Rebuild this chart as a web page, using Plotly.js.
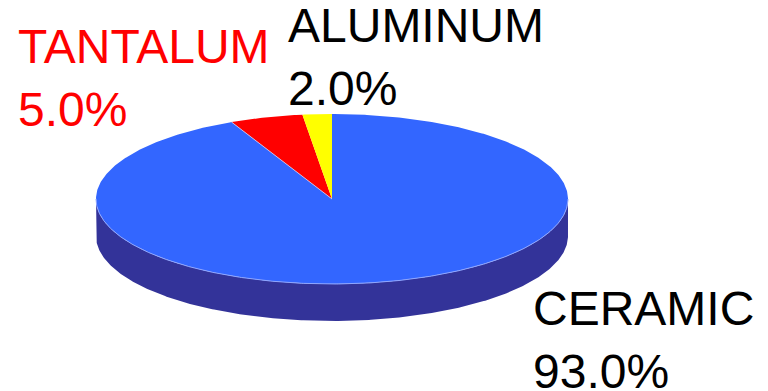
<!DOCTYPE html>
<html>
<head>
<meta charset="utf-8">
<script src="https://cdn.plot.ly/plotly-3.0.1.min.js"></script>
<style>
  html, body { margin: 0; padding: 0; background: #ffffff; }
  #chart { width: 768px; height: 391px; }
</style>
</head>
<body>
<div id="chart"></div>
<script>
// Composition data
const labels = ['CERAMIC', 'TANTALUM', 'ALUMINUM'];
const values = [93, 5, 2];

// Slice styling
const topColors = ['#3366FF', '#FF0000', '#FFFF00'];
const sideColors = ['#333399', '#990000', '#999900'];
const labelColors = ['#000000', '#FF0000', '#000000'];

// Canvas and pie geometry (plot units = pixels)
const W = 768, H = 391;
const CX = 332, CY = 199, RX = 236, RY = 85, DEPTH = 37;
const START = 90;          // first slice starts at 12 o'clock
const STEP = 0.5;          // arc sampling in degrees

// Label placement in pixels (left edge, top edge of the first text line)
const labelPos = [[531, 279.5], [15.5, 18], [286, -3.5]];
const LABEL_SIZE = 48;
const LINE_GAP = 63;       // distance between the name line and the percent line

const rad = d => d * Math.PI / 180;
const px = d => CX + RX * Math.cos(rad(d));
const py = d => CY - RY * Math.sin(rad(d));

function arc(a, b) {
  // sample from angle a to angle b (either direction)
  const pts = [];
  const n = Math.max(2, Math.ceil(Math.abs(b - a) / STEP));
  for (let i = 0; i <= n; i++) pts.push(a + (b - a) * i / n);
  return pts;
}

const total = values.reduce((s, v) => s + v, 0);
const slices = [];
let ang = START;
values.forEach((v, i) => {
  const sweep = 360 * v / total;
  slices.push({ i, a0: ang, a1: ang - sweep }); // clockwise
  ang -= sweep;
});

const traces = [];

// Side walls: only the front half (angles where sin < 0) is visible
slices.forEach(s => {
  const hi = s.a0, lo = s.a1;
  for (let k = -2; k <= 1; k++) {
    const fHi = 360 * k, fLo = 360 * k - 180;
    const a = Math.min(hi, fHi), b = Math.max(lo, fLo);
    if (a <= b) continue;
    const top = arc(a, b);
    const bot = arc(b, a);
    const xs = top.map(px).concat(bot.map(px));
    const ys = top.map(py).concat(bot.map(d => py(d) + DEPTH));
    xs.push(xs[0]); ys.push(ys[0]);
    traces.push({
      type: 'scatter', mode: 'lines', x: xs, y: ys,
      fill: 'toself', fillcolor: sideColors[s.i],
      line: { width: 0, color: sideColors[s.i] },
      hoverinfo: 'skip', showlegend: false
    });
  }
});

// Top faces
slices.forEach(s => {
  const pts = arc(s.a0, s.a1);
  const xs = [CX].concat(pts.map(px), [CX]);
  const ys = [CY].concat(pts.map(py), [CY]);
  traces.push({
    type: 'scatter', mode: 'lines', x: xs, y: ys,
    fill: 'toself', fillcolor: topColors[s.i],
    line: { width: 0, color: topColors[s.i] },
    hoverinfo: 'skip', showlegend: false
  });
});

// Light rim where the top face meets the side wall
const rim = arc(180, 360);
traces.push({
  type: 'scatter', mode: 'lines',
  x: rim.map(px), y: rim.map(py),
  line: { width: 1, color: '#8fa6ff' },
  hoverinfo: 'skip', showlegend: false
});

// Light seam along the first slice's closing edge
const seamAngle = slices[0].a1;
traces.push({
  type: 'scatter', mode: 'lines',
  x: [CX, px(seamAngle)], y: [CY, py(seamAngle)],
  line: { width: 0.8, color: '#c8d2ff' },
  hoverinfo: 'skip', showlegend: false
});

// Two text lines per slice: name, then percentage
const annotations = [];
labels.forEach((lab, i) => {
  const pct = (100 * values[i] / total).toFixed(1) + '%';
  [lab, pct].forEach((txt, line) => {
    annotations.push({
      xref: 'paper', yref: 'paper',
      x: labelPos[i][0] / W,
      y: 1 - (labelPos[i][1] + line * LINE_GAP) / H,
      xanchor: 'left', yanchor: 'top', align: 'left',
      showarrow: false,
      text: txt,
      font: { family: 'Liberation Sans, Arial, sans-serif', size: LABEL_SIZE, color: labelColors[i] }
    });
  });
});

const layout = {
  width: W, height: H,
  margin: { l: 0, r: 0, t: 0, b: 0 },
  paper_bgcolor: '#ffffff', plot_bgcolor: '#ffffff',
  xaxis: { range: [0, W], visible: false, fixedrange: true },
  yaxis: { range: [H, 0], visible: false, fixedrange: true },
  showlegend: false,
  hovermode: false,
  annotations
};

Plotly.newPlot('chart', traces, layout, { displayModeBar: false, staticPlot: true });
</script>
</body>
</html>
